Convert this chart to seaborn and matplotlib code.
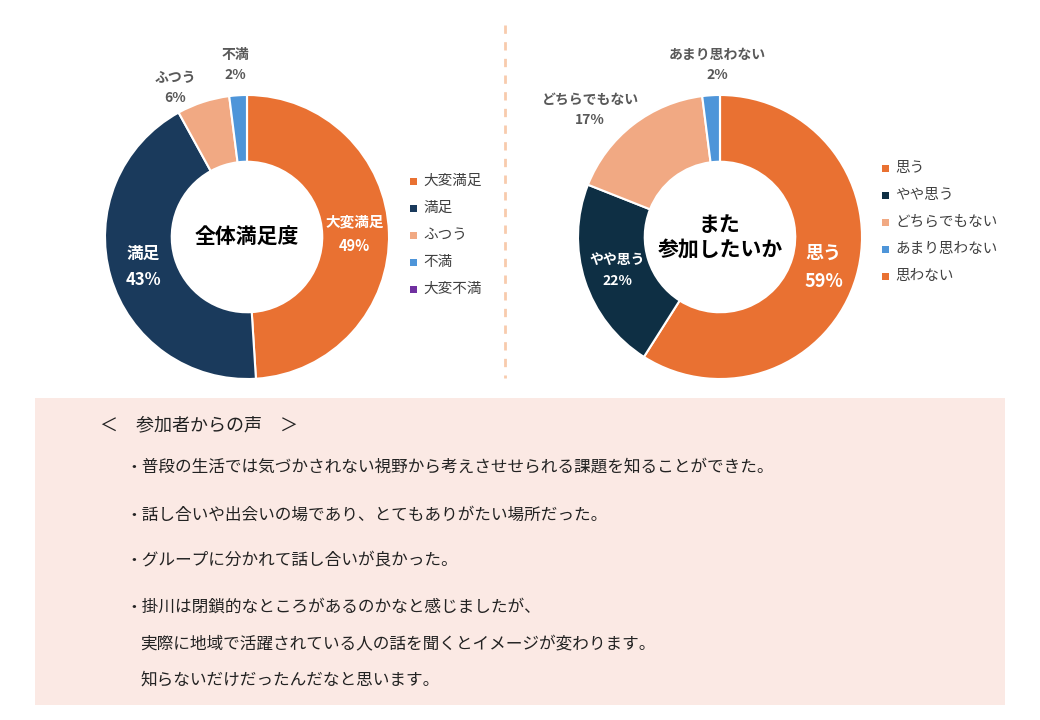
import matplotlib
matplotlib.use("Agg")
import matplotlib.pyplot as plt
import seaborn as sns
import numpy as np
from matplotlib.patches import Rectangle

sns.set_theme(style="white")
plt.rcParams["font.family"] = "Noto Sans CJK JP"

left_cats = ["大変満足", "満足", "ふつう", "不満", "大変不満"]
left_vals = [49, 43, 6, 2, 0]
left_colors = ["#E97132", "#1A3A5C", "#F1A983", "#4E95D9", "#7030A0"]
right_cats = ["思う", "やや思う", "どちらでもない", "あまり思わない", "思わない"]
right_vals = [59, 22, 17, 2, 0]
right_colors = ["#E97132", "#0E2F44", "#F1A983", "#4E95D9", "#E97132"]
comments = [
    "・普段の生活では気づかされない視野から考えさせせられる課題を知ることができた。",
    "・話し合いや出会いの場であり、とてもありがたい場所だった。",
    "・グループに分かれて話し合いが良かった。",
    "・掛川は閉鎖的なところがあるのかなと感じましたが、",
]
comment_cont = ["実際に地域で活躍されている人の話を聞くとイメージが変わります。",
                "知らないだけだったんだなと思います。"]

W, H = 1040, 720
fig = plt.figure(figsize=(10.4, 7.2), dpi=100)
bg = fig.add_axes([0, 0, 1, 1])
bg.set_xlim(0, W); bg.set_ylim(H, 0); bg.axis("off")

# divider
bg.plot([505, 505], [25, 378], ls=(0, (3, 3)), color="#F8CBAD", lw=2)
# comment box
bg.add_patch(Rectangle((35, 398), 970, 307, color="#FBE9E4", lw=0))
bg.text(100, 425, "＜　参加者からの声　＞", fontsize=13, va="center", color="#222222")
ys = [467, 515, 560, 607]
for y, t in zip(ys, comments):
    bg.text(125, y, t, fontsize=12, va="center", color="#222222")
bg.text(140, 645, comment_cont[0], fontsize=12, va="center", color="#222222")
bg.text(140, 680, comment_cont[1], fontsize=12, va="center", color="#222222")

def donut(cx, cy, r, vals, colors, cats, center, inside, outside, lx, ly):
    ax = fig.add_axes([(cx - r) / W, (H - cy - r) / H, 2 * r / W, 2 * r / H])
    v = [x if x > 0 else 1e-9 for x in vals]
    wedges, _ = ax.pie(v, colors=colors, startangle=90, counterclock=False,
                       wedgeprops=dict(width=0.47, edgecolor="white", linewidth=1.5))
    ax.set_xlim(-1, 1); ax.set_ylim(-1, 1); ax.set_aspect("equal")
    ax.text(0, 0, center, ha="center", va="center", fontsize=15, fontweight="bold",
            color="black", linespacing=1.2)
    for i, (w, cat, val) in enumerate(zip(wedges, cats, vals)):
        ang = np.deg2rad((w.theta1 + w.theta2) / 2)
        if i in inside:
            rr, fs = inside[i]
            ax.text(rr * np.cos(ang), rr * np.sin(ang), f"{cat}\n{val}%", ha="center",
                    va="center", color="white", fontweight="bold", fontsize=fs, linespacing=1.6)
        elif i in outside:
            px, py = outside[i]
            bg.text(px, py, f"{cat}\n{val}%", ha="center", va="center", color="#595959",
                    fontweight="bold", fontsize=10, linespacing=1.6)
    for i, (cat, c) in enumerate(zip(cats, colors)):
        y = ly + i * 27
        bg.add_patch(Rectangle((lx, y - 3.5), 7, 7, color=c, lw=0))
        bg.text(lx + 13, y, cat, va="center", fontsize=10.5, color="#404040")

donut(247, 237, 142, left_vals, left_colors, left_cats, "全体満足度",
      {0: (0.76, 10.5), 1: (0.76, 12)}, {2: (175, 88), 3: (235, 65)}, 410, 181)
donut(720, 237, 142, right_vals, right_colors, right_cats, "また\n参加したいか",
      {0: (0.76, 13), 1: (0.76, 10)}, {2: (590, 110), 3: (717, 65)}, 882, 168)

fig.savefig("out.png", dpi=100, facecolor="white")
